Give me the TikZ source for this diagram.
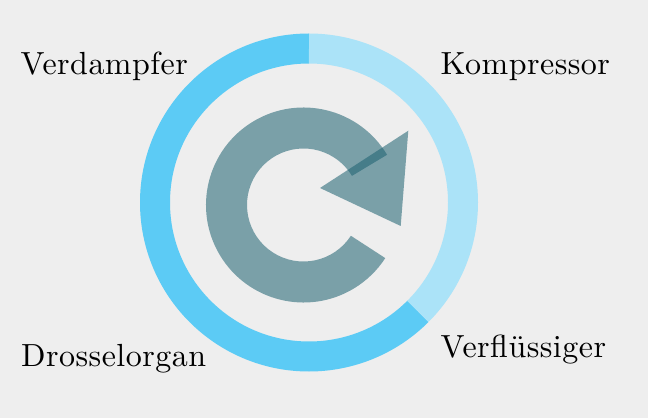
\documentclass[tikz,border=0pt]{standalone}
\usepackage{fontspec}
\setmainfont{lmroman10-regular.otf}[LetterSpace=1.5]
\usetikzlibrary{calc}
\definecolor{bgc}{HTML}{EEEEEE}
\definecolor{ringdark}{HTML}{5CCBF5}
\definecolor{ringlight}{HTML}{ABE3F8}
\definecolor{arrowc}{RGB}{28,97,112}
\tikzset{
  ringseg/.style={line width=30pt, line cap=butt},
  cyclearrow/.style={fill=arrowc, fill opacity=0.55, draw=none},
  label/.style={anchor=base west, inner sep=0pt, font=\fontsize{32}{36}\selectfont, text=black}
}
\begin{document}
\begin{tikzpicture}[x=1pt,y=1pt]
\fill[bgc] (0,0) rectangle (648,418);
\useasboundingbox (0,0) rectangle (648,418);
\coordinate (rc) at (309,215.5);
\coordinate (ac) at (303.5,213);
% outer ring
\draw[ringseg, ringdark] (rc) ++(90:154) arc[start angle=90, end angle=315, radius=154];
\draw[ringseg, ringlight] (rc) ++(-45:154) arc[start angle=-45, end angle=90, radius=154];
% inner cycle arrow
\fill[cyclearrow] (ac) ++(31:97.5) arc[start angle=31, end angle=327, radius=97.5]
  -- ($(ac)+(327:56.5)$) arc[start angle=327, end angle=31, radius=56.5] -- cycle;
\fill[cyclearrow] (320,230) -- (408.3,287.3) -- (400.7,192) -- cycle;
% labels
\node[label] (verd) at (20.5,343) {Verdampfer};
\node[label] (komp) at (440.5,343) {Kompressor};
\node[label] (dros) at (21,51.3) {Drosselorgan};
\node[label] (verf) at (440.5,60.7) {Verflüssiger};
\end{tikzpicture}
\end{document}
